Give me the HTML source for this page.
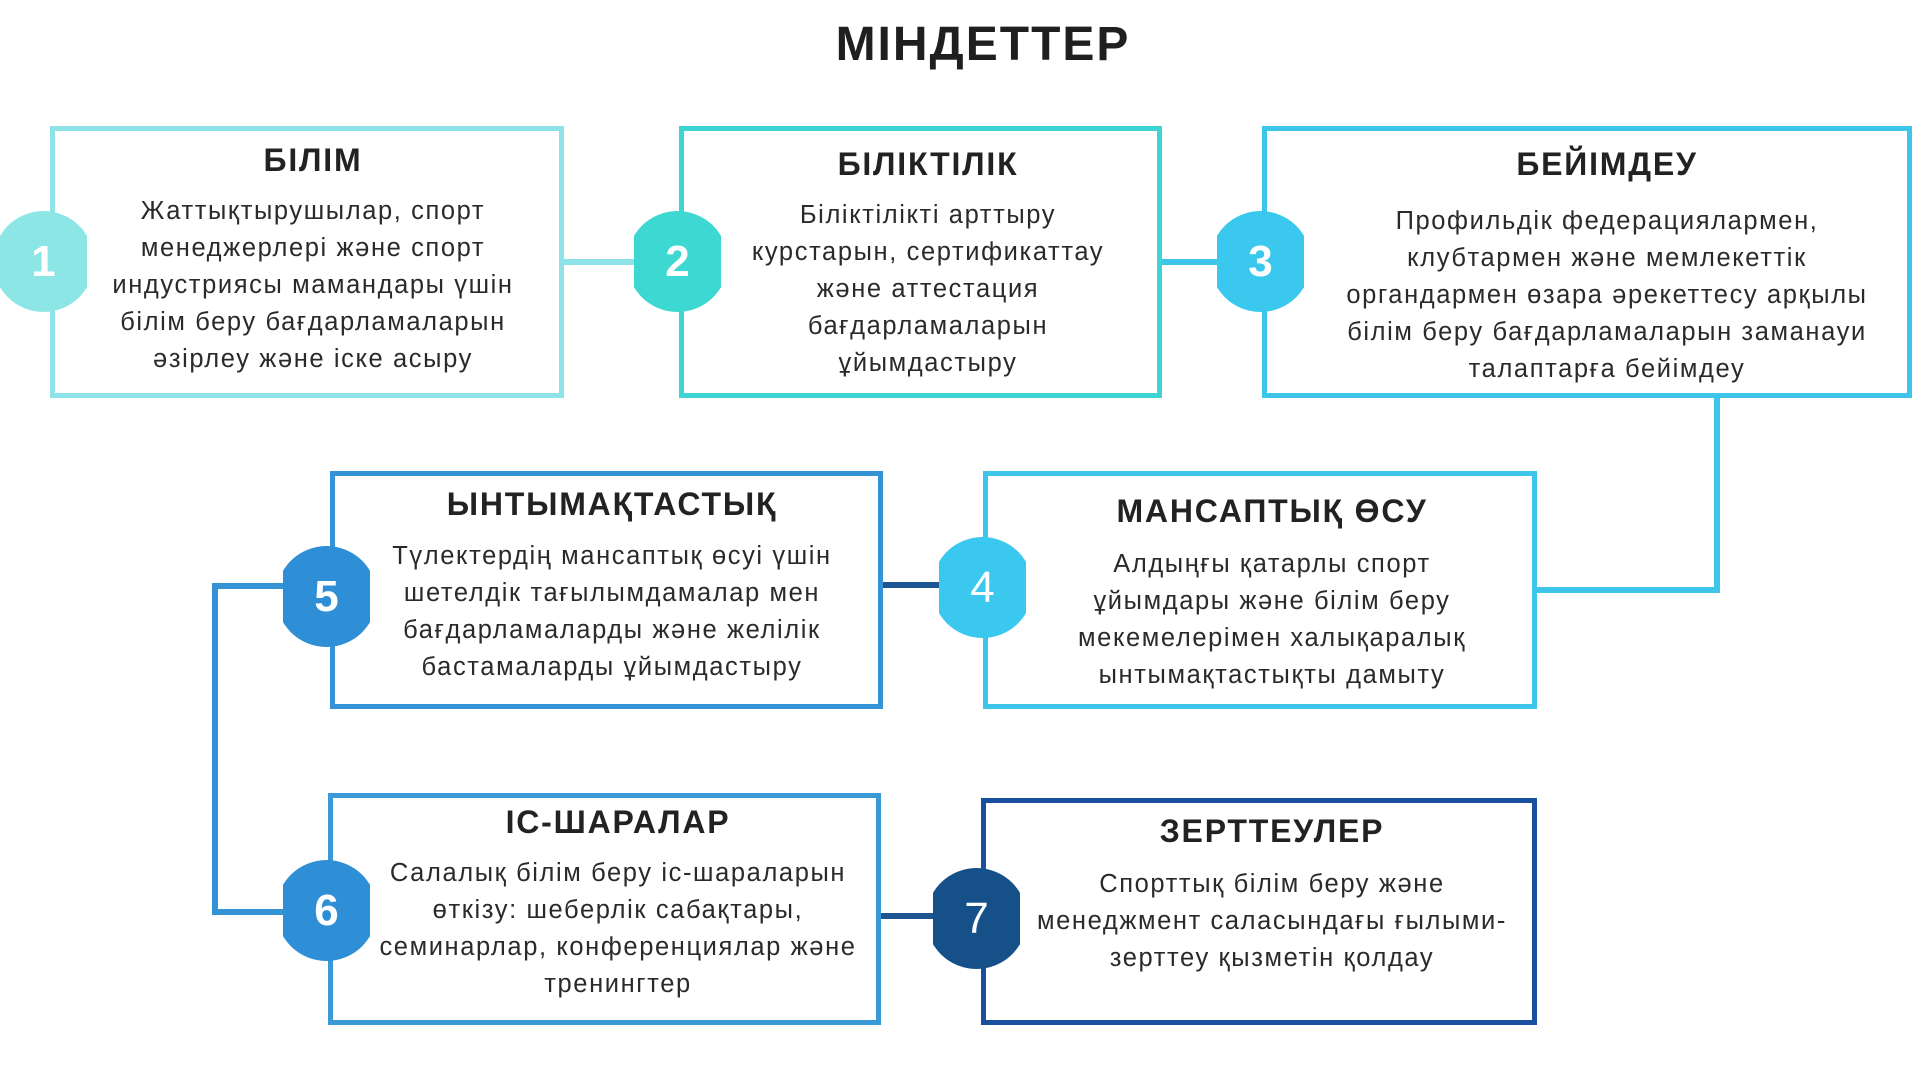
<!DOCTYPE html>
<html><head><meta charset="utf-8"><style>
*{margin:0;padding:0;box-sizing:border-box}
body{width:1920px;height:1080px;background:#fff;position:relative;overflow:hidden;font-family:"Liberation Sans","DejaVu Sans",sans-serif;color:#222}
.box{position:absolute;border:5px solid}
.ln{position:absolute}
.c{position:absolute;width:87px;height:101px;overflow:hidden}
.c div{position:absolute;left:-7px;top:0;width:101px;height:101px;border-radius:50%}
.c span{position:absolute;left:0;top:0;width:87px;height:101px;line-height:101px;text-align:center;color:#fff;font-size:44px;font-weight:bold}
.t{position:absolute;text-align:center;white-space:nowrap;transform:translateX(-50%)}
.h{font-weight:bold;font-size:32px;letter-spacing:1.8px}
.b{font-size:25.5px;line-height:37px;letter-spacing:1.6px;color:#2a2a2a}
</style></head><body>
<div class="t" style="left:983px;top:17px;font-size:48px;font-weight:bold;letter-spacing:2px;color:#1f1f1f">МІНДЕТТЕР</div>

<div class="ln" style="left:560px;top:259px;width:122px;height:6px;background:#8de3e8"></div>
<div class="ln" style="left:1158px;top:259px;width:106px;height:6px;background:#3ec6ea"></div>
<div class="ln" style="left:1714px;top:395px;width:6px;height:198px;background:#3ec6ea"></div>
<div class="ln" style="left:1533px;top:587px;width:187px;height:6px;background:#3ec6ea"></div>
<div class="ln" style="left:880px;top:582px;width:62px;height:6px;background:#1d5592"></div>
<div class="ln" style="left:212px;top:583px;width:6px;height:332px;background:#3493d4"></div>
<div class="ln" style="left:212px;top:583px;width:75px;height:6px;background:#3493d4"></div>
<div class="ln" style="left:212px;top:909px;width:75px;height:6px;background:#3493d4"></div>
<div class="ln" style="left:878px;top:913px;width:60px;height:6px;background:#1d5592"></div>

<div class="box" style="left:50px;top:126px;width:514px;height:272px;border-color:#8de3e8"></div>
<div class="box" style="left:679px;top:126px;width:483px;height:272px;border-color:#3dd5d3"></div>
<div class="box" style="left:1262px;top:126px;width:650px;height:272px;border-color:#3ec6ea"></div>
<div class="box" style="left:330px;top:471px;width:553px;height:238px;border-color:#3493d4"></div>
<div class="box" style="left:983px;top:471px;width:554px;height:238px;border-color:#3ec6ea"></div>
<div class="box" style="left:328px;top:793px;width:553px;height:232px;border-color:#3a9ad8"></div>
<div class="box" style="left:981px;top:798px;width:556px;height:227px;border-color:#1a4fa0"></div>

<div class="c" style="left:0px;top:211px"><div style="background:#8de6e6"></div><span>1</span></div>
<div class="c" style="left:634px;top:211px"><div style="background:#3dd8d2"></div><span>2</span></div>
<div class="c" style="left:1217px;top:211px"><div style="background:#3ac8ef"></div><span>3</span></div>
<div class="c" style="left:939px;top:537px"><div style="background:#3ac8ef"></div><span style="font-weight:normal">4</span></div>
<div class="c" style="left:283px;top:546px"><div style="background:#2e8fd6"></div><span>5</span></div>
<div class="c" style="left:283px;top:860px"><div style="background:#2e8fd6"></div><span>6</span></div>
<div class="c" style="left:933px;top:868px"><div style="background:#155088"></div><span style="font-weight:normal">7</span></div>

<div class="t h" style="left:313px;top:142px">БІЛІМ</div>
<div class="t b" style="left:313px;top:193px">Жаттықтырушылар, спорт<br>менеджерлері және спорт<br>индустриясы мамандары үшін<br>білім беру бағдарламаларын<br>әзірлеу және іске асыру</div>

<div class="t h" style="left:928px;top:146px">БІЛІКТІЛІК</div>
<div class="t b" style="left:928px;top:197px">Біліктілікті арттыру<br>курстарын, сертификаттау<br>және аттестация<br>бағдарламаларын<br>ұйымдастыру</div>

<div class="t h" style="left:1607px;top:146px">БЕЙІМДЕУ</div>
<div class="t b" style="left:1607px;top:203px">Профильдік федерациялармен,<br>клубтармен және мемлекеттік<br>органдармен өзара әрекеттесу арқылы<br>білім беру бағдарламаларын заманауи<br>талаптарға бейімдеу</div>

<div class="t h" style="left:612px;top:486px">ЫНТЫМАҚТАСТЫҚ</div>
<div class="t b" style="left:612px;top:538px">Түлектердің мансаптық өсуі үшін<br>шетелдік тағылымдамалар мен<br>бағдарламаларды және желілік<br>бастамаларды ұйымдастыру</div>

<div class="t h" style="left:1272px;top:493px">МАНСАПТЫҚ ӨСУ</div>
<div class="t b" style="left:1272px;top:546px">Алдыңғы қатарлы спорт<br>ұйымдары және білім беру<br>мекемелерімен халықаралық<br>ынтымақтастықты дамыту</div>

<div class="t h" style="left:618px;top:804px">ІС-ШАРАЛАР</div>
<div class="t b" style="left:618px;top:855px">Салалық білім беру іс-шараларын<br>өткізу: шеберлік сабақтары,<br>семинарлар, конференциялар және<br>тренингтер</div>

<div class="t h" style="left:1272px;top:813px">ЗЕРТТЕУЛЕР</div>
<div class="t b" style="left:1272px;top:866px">Спорттық білім беру және<br>менеджмент саласындағы ғылыми-<br>зерттеу қызметін қолдау</div>
</body></html>
